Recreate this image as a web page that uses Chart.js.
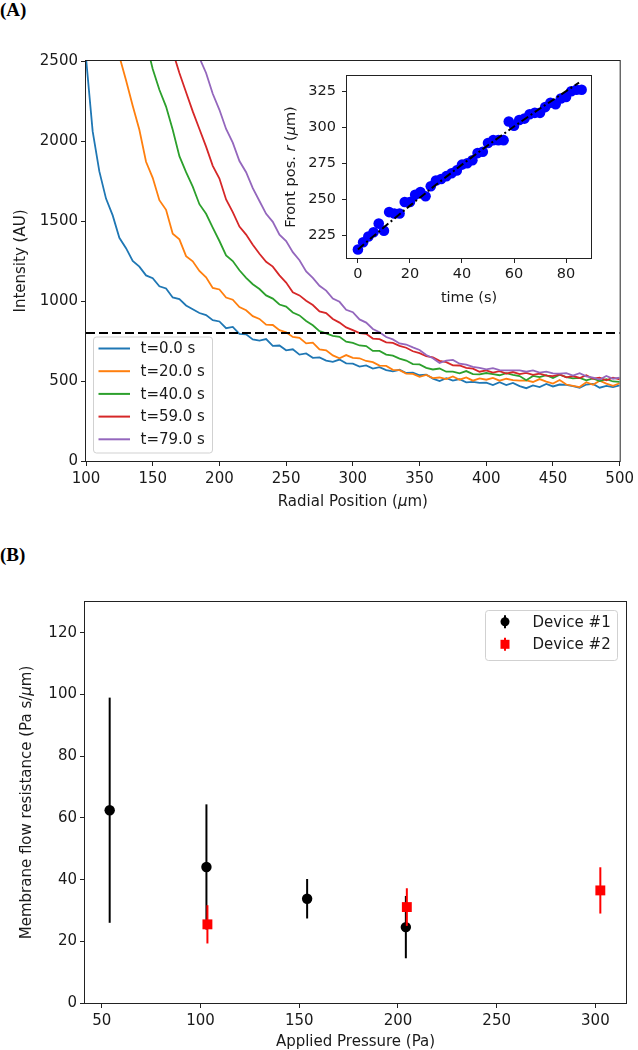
<!DOCTYPE html>
<html>
<head>
<meta charset="utf-8">
<script src="https://cdn.jsdelivr.net/npm/chart.js@4"></script>
<style>
  body { margin: 0; background: #fff; width: 638px; height: 1050px; position: relative; overflow: hidden; }
  canvas { position: absolute; }
  .panel-label { position: absolute; font: bold 19px "Liberation Serif", serif; line-height: 1; color: #000; }
</style>
</head>
<body>
<div class="panel-label" style="left:0;top:0">(A)</div>
<div class="panel-label" style="left:0;top:545px">(B)</div>
<canvas id="profileChart" width="638" height="520" style="left:0;top:0"></canvas>
<canvas id="frontChart" width="330" height="250" style="left:280px;top:60px"></canvas>
<canvas id="resistanceChart" width="638" height="490" style="left:0;top:560px"></canvas>
<script>
// ---- panel A: intensity profiles ----
const radialPos = [100, 105, 110, 115, 120, 125, 130, 135, 140, 145, 150, 155, 160, 165, 170, 175, 180, 185, 190, 195,
  200, 205, 210, 215, 220, 225, 230, 235, 240, 245, 250, 255, 260, 265, 270, 275, 280, 285, 290, 295,
  300, 305, 310, 315, 320, 325, 330, 335, 340, 345, 350, 355, 360, 365, 370, 375, 380, 385, 390, 395,
  400, 405, 410, 415, 420, 425, 430, 435, 440, 445, 450, 455, 460, 465, 470, 475, 480, 485, 490, 495, 500];

const intensityT0 = [2520, 2060, 1810, 1640, 1535, 1395, 1330, 1250, 1215, 1160, 1142, 1092, 1078, 1022, 1012, 972, 948, 925, 912, 880,
  872, 830, 838, 795, 792, 760, 752, 762, 720, 722, 692, 698, 665, 672, 645, 648, 628, 620, 634, 610,
  608, 590, 598, 578, 586, 568, 560, 570, 550, 552, 536, 540, 515, 500, 518, 502, 512, 492, 494, 488,
  490, 475, 492, 474, 488, 468, 455, 472, 462, 482, 466, 478, 476, 468, 458, 478, 482, 458, 470, 462, 472];
const intensityT20 = [null, null, null, null, 2720, 2530, 2380, 2220, 2070, 1870, 1770, 1630, 1570, 1420, 1385, 1280, 1248, 1188, 1148, 1082,
  1072, 1022, 1008, 962, 942, 905, 888, 852, 850, 818, 805, 775, 770, 735, 740, 698, 692, 660, 642, 662,
  645, 642, 625, 618, 596, 594, 570, 568, 546, 544, 526, 538, 518, 522, 512, 528, 508, 522, 502, 516,
  508, 519, 502, 514, 505, 502, 504, 494, 512, 496, 484, 506, 478, 470, 462, 492, 476, 502, 484, 470, 486];
const intensityT40 = [null, null, null, null, null, null, null, null, 2800, 2620, 2450, 2320, 2215, 2070, 1905, 1805, 1715, 1605, 1545, 1458,
  1375, 1285, 1250, 1192, 1145, 1105, 1075, 1035, 1015, 978, 965, 928, 910, 875, 848, 812, 798, 782, 776, 746,
  738, 722, 718, 688, 688, 665, 658, 640, 628, 606, 604, 582, 572, 578, 558, 558, 548, 562, 543, 542,
  550, 543, 536, 549, 538, 531, 505, 532, 524, 536, 518, 539, 524, 516, 520, 504, 516, 499, 511, 497, 495];
const intensityT59 = [null, null, null, null, null, null, null, null, null, null, null, null, 2700, 2560, 2425, 2305, 2185, 2075, 1965, 1845,
  1765, 1635, 1555, 1465, 1415, 1352, 1295, 1245, 1215, 1160, 1115, 1055, 1035, 1002, 975, 935, 925, 888, 865, 835,
  818, 800, 795, 765, 762, 742, 738, 720, 708, 686, 674, 655, 648, 626, 618, 598, 597, 582, 577, 558,
  566, 553, 561, 546, 556, 543, 551, 538, 546, 533, 531, 541, 523, 531, 519, 536, 514, 521, 504, 521, 510];
const intensityT79 = [null, null, null, null, null, null, null, null, null, null, null, null, null, null, null, null, 2650, 2520, 2425, 2295,
  2195, 2075, 1990, 1875, 1805, 1705, 1625, 1545, 1495, 1415, 1375, 1305, 1255, 1185, 1145, 1095, 1065, 1015, 995, 945,
  930, 885, 865, 825, 805, 775, 760, 735, 728, 710, 694, 662, 642, 612, 628, 632, 608, 602, 588, 582,
  573, 580, 568, 567, 566, 567, 558, 566, 553, 559, 548, 546, 549, 534, 549, 529, 521, 509, 531, 514, 521];

const profileLabels = ['t=0.0 s', 't=20.0 s', 't=40.0 s', 't=59.0 s', 't=79.0 s'];
const profileColors = ['#1f77b4', '#ff7f0e', '#2ca02c', '#d62728', '#9467bd'];
const thresholdLevel = 800;
const radialTicks = [100, 150, 200, 250, 300, 350, 400, 450, 500];
const intensityTicks = [0, 500, 1000, 1500, 2000, 2500];

// ---- panel A inset: front position ----
const frontTime = [0, 2, 4, 6, 8, 10, 12, 14, 16, 18, 20, 22, 24, 26, 28, 30, 32, 34, 36, 38, 40, 42,
  44, 46, 48, 50, 52, 54, 56, 58, 60, 62, 64, 66, 68, 70, 72, 74, 76, 78, 80, 82, 84, 86];
const frontPos = [215, 220, 224, 227, 233, 228, 241, 240, 240, 248, 248, 253, 255, 252, 259, 263, 264, 266, 268, 270, 274, 275,
  277, 282, 283, 289, 291, 291, 291, 304, 301, 305, 306, 309, 310, 310, 314, 317, 316, 320, 321, 325, 326, 326];
const fitTime = [0, 10, 20, 30, 40, 50, 60, 70, 85];
const fitPos = [215, 230.5, 245.5, 260, 274, 287.5, 300.5, 313, 331];
const timeTicks = [0, 20, 40, 60, 80];
const frontTicks = [225, 250, 275, 300, 325];

// ---- panel B: membrane resistance ----
const device1Pressure = [54, 103, 154, 204];
const device1Resistance = [62.5, 44.1, 33.8, 24.6];
const device1Error = [36.5, 20.3, 6.4, 10.1];
const device2Pressure = [103.5, 204.5, 302.5];
const device2Resistance = [25.5, 31.1, 36.5];
const device2Error = [6.2, 6.1, 7.5];
const deviceLabels = ['Device #1', 'Device #2'];
const pressureTicks = [50, 100, 150, 200, 250, 300];
const resistanceTicks = [0, 20, 40, 60, 80, 100, 120];

const TEXT = '#1a1a1a';
Chart.defaults.font.family = '"DejaVu Sans"';
Chart.defaults.font.size = 15;
Chart.defaults.color = TEXT;

function toPoints(xs, ys) {
  return xs.map((x, i) => ({ x: x, y: ys[i] })).filter(p => p.y !== null);
}

function axis(min, max, ticks, size, pad, fontSize) {
  return {
    type: 'linear',
    min: min,
    max: max,
    afterBuildTicks: s => { s.ticks = ticks.map(v => ({ value: v })); },
    afterFit: s => { if (s.isHorizontal()) s.height = size; else s.width = size; },
    grid: { display: true, drawOnChartArea: false, drawTicks: true, tickLength: 5, color: '#222', lineWidth: 1 },
    border: { display: false },
    ticks: { padding: pad, color: TEXT, font: { size: fontSize }, maxRotation: 0, autoSkip: false, callback: v => String(v) },
  };
}

// text with italic parts (matplotlib mathtext)
function drawRich(ctx, parts, x, y, angle, size) {
  ctx.save();
  ctx.translate(x, y);
  ctx.rotate(angle);
  ctx.fillStyle = TEXT;
  ctx.textBaseline = 'alphabetic';
  ctx.textAlign = 'left';
  const fonts = parts.map(p => (p.italic ? 'italic ' : '') + size + 'px "DejaVu Sans"');
  let total = 0;
  const widths = parts.map((p, i) => {
    ctx.font = fonts[i];
    const w = ctx.measureText(p.text).width;
    total += w;
    return w;
  });
  let cx = -total / 2;
  parts.forEach((p, i) => {
    ctx.font = fonts[i];
    ctx.fillText(p.text, cx, 0);
    cx += widths[i];
  });
  ctx.restore();
}

function drawFrame(chart) {
  const { ctx, chartArea: a } = chart;
  ctx.save();
  ctx.strokeStyle = '#222';
  ctx.lineWidth = 1;
  ctx.strokeRect(a.left - 0.5, a.top - 0.5, a.right - a.left + 1, a.bottom - a.top + 1);
  ctx.restore();
}

function legendBox(ctx, x, y, w, h) {
  ctx.save();
  ctx.beginPath();
  ctx.roundRect(x, y, w, h, 3);
  ctx.fillStyle = 'rgba(255,255,255,0.8)';
  ctx.fill();
  ctx.strokeStyle = 'rgba(204,204,204,0.9)';
  ctx.lineWidth = 1;
  ctx.stroke();
  ctx.restore();
}

const profilePlugin = {
  id: 'profileDecor',
  afterDraw(chart) {
    const { ctx, chartArea: a } = chart;
    drawFrame(chart);
    drawRich(ctx, [{ text: 'Radial Position (' }, { text: 'μ', italic: true }, { text: 'm)' }],
      (a.left + a.right) / 2, 506, 0, 15);
    drawRich(ctx, [{ text: 'Intensity (AU)' }], 24.5, (a.top + a.bottom) / 2, -Math.PI / 2, 15);

    // legend
    legendBox(ctx, 93.5, 337, 119, 116);
    ctx.save();
    ctx.font = '15px "DejaVu Sans"';
    ctx.textBaseline = 'middle';
    ctx.fillStyle = TEXT;
    profileLabels.forEach((lab, i) => {
      const y = 348.5 + i * 22.7;
      ctx.strokeStyle = profileColors[i];
      ctx.lineWidth = 2;
      ctx.beginPath();
      ctx.moveTo(98.5, y);
      ctx.lineTo(130, y);
      ctx.stroke();
      ctx.fillText(lab, 140.5, y + 1);
    });
    ctx.restore();
  }
};

const profileSets = [intensityT0, intensityT20, intensityT40, intensityT59, intensityT79].map((vals, i) => ({
  label: profileLabels[i],
  data: toPoints(radialPos, vals),
  borderColor: profileColors[i],
  borderWidth: 1.8,
  pointRadius: 0,
  tension: 0,
}));

new Chart(document.getElementById('profileChart'), {
  type: 'line',
  data: {
    datasets: [{
      label: 'threshold',
      data: [{ x: radialTicks[0], y: thresholdLevel }, { x: radialTicks[radialTicks.length - 1], y: thresholdLevel }],
      borderColor: '#000',
      borderWidth: 2.2,
      borderDash: [9, 4],
      pointRadius: 0,
    }].concat(profileSets.slice().reverse()),
  },
  options: {
    responsive: false,
    animation: false,
    layout: { padding: { top: 61, right: 15, left: 0, bottom: 0 } },
    plugins: { legend: { display: false }, tooltip: { enabled: false } },
    scales: {
      x: axis(100, 500, radialTicks, 59, 4, 15),
      y: axis(0, 2500, intensityTicks, 86, 3, 15),
    },
  },
  plugins: [profilePlugin],
});

const frontPlugin = {
  id: 'frontDecor',
  beforeDraw(chart) {
    const { ctx, chartArea: a } = chart;
    ctx.save();
    ctx.fillStyle = '#fff';
    ctx.fillRect(a.left, a.top, a.right - a.left, a.bottom - a.top);
    ctx.restore();
  },
  afterDraw(chart) {
    const { ctx, chartArea: a } = chart;
    drawFrame(chart);
    drawRich(ctx, [{ text: 'time (s)' }], (a.left + a.right) / 2, 242, 0, 14.5);
    drawRich(ctx, [{ text: 'Front pos. ' }, { text: 'r', italic: true }, { text: ' (' }, { text: 'μ', italic: true }, { text: 'm)' }],
      14.5, (a.top + a.bottom) / 2, -Math.PI / 2, 14.5);
  }
};

new Chart(document.getElementById('frontChart'), {
  type: 'line',
  data: {
    datasets: [
      {
        label: 'fit',
        data: toPoints(fitTime, fitPos),
        borderColor: '#000',
        borderWidth: 2,
        borderDash: [8, 3, 2, 3],
        pointRadius: 0,
      },
      {
        label: 'front',
        data: toPoints(frontTime, frontPos),
        showLine: false,
        pointRadius: 5.3,
        pointBackgroundColor: '#0000ff',
        pointBorderWidth: 0,
      },
    ],
  },
  options: {
    responsive: false,
    animation: false,
    layout: { padding: { top: 16, right: 19, left: 0, bottom: 0 } },
    plugins: { legend: { display: false }, tooltip: { enabled: false } },
    scales: {
      x: axis(-4.2, 89.6, timeTicks, 52, 2.5, 14.5),
      y: axis(209.1, 335.6, frontTicks, 67, 6, 14.5),
    },
  },
  plugins: [frontPlugin],
});

// error bars drawn just before each dataset's markers
const errorBarPlugin = {
  id: 'errorBars',
  beforeDatasetDraw(chart, args) {
    const ds = chart.data.datasets[args.index];
    if (!ds.errors) return;
    const { ctx } = chart;
    const yScale = chart.scales.y;
    ctx.save();
    ctx.strokeStyle = ds.pointBackgroundColor;
    ctx.lineWidth = 2;
    args.meta.data.forEach((pt, i) => {
      const v = ds.data[i].y;
      ctx.beginPath();
      ctx.moveTo(pt.x, yScale.getPixelForValue(v + ds.errors[i]));
      ctx.lineTo(pt.x, yScale.getPixelForValue(v - ds.errors[i]));
      ctx.stroke();
    });
    ctx.restore();
  }
};

const resistancePlugin = {
  id: 'resistanceDecor',
  afterDraw(chart) {
    const { ctx, chartArea: a } = chart;
    drawFrame(chart);
    drawRich(ctx, [{ text: 'Applied Pressure (Pa)' }], (a.left + a.right) / 2, 486, 0, 15);
    drawRich(ctx, [{ text: 'Membrane flow resistance (Pa s/' }, { text: 'μ', italic: true }, { text: 'm)' }],
      31, (a.top + a.bottom) / 2, -Math.PI / 2, 15);

    legendBox(ctx, 485.5, 50.5, 132, 50);
    ctx.save();
    ctx.font = '15px "DejaVu Sans"';
    ctx.textBaseline = 'middle';
    ctx.fillStyle = TEXT;
    const colors = ['#000000', '#ff0000'];
    deviceLabels.forEach((lab, i) => {
      const y = 61.7 + i * 22.6;
      ctx.strokeStyle = colors[i];
      ctx.lineWidth = 2;
      ctx.beginPath();
      ctx.moveTo(505, y - 6.5);
      ctx.lineTo(505, y + 6.5);
      ctx.stroke();
      ctx.fillStyle = colors[i];
      ctx.beginPath();
      if (i === 0) ctx.arc(505, y, 4.5, 0, Math.PI * 2);
      else ctx.rect(500.5, y - 4.5, 9, 9);
      ctx.fill();
      ctx.fillStyle = TEXT;
      ctx.fillText(lab, 532.5, y + 1);
    });
    ctx.restore();
  }
};

new Chart(document.getElementById('resistanceChart'), {
  type: 'line',
  data: {
    datasets: [
      {
        label: deviceLabels[1],
        data: toPoints(device2Pressure, device2Resistance),
        errors: device2Error,
        showLine: false,
        pointStyle: 'rect',
        pointRadius: 7,
        pointBackgroundColor: '#ff0000',
        pointBorderWidth: 0,
      },
      {
        label: deviceLabels[0],
        data: toPoints(device1Pressure, device1Resistance),
        errors: device1Error,
        showLine: false,
        pointStyle: 'circle',
        pointRadius: 5.2,
        pointBackgroundColor: '#000000',
        pointBorderWidth: 0,
      },
    ],
  },
  options: {
    responsive: false,
    animation: false,
    layout: { padding: { top: 42, right: 12, left: 0, bottom: 0 } },
    plugins: { legend: { display: false }, tooltip: { enabled: false } },
    scales: {
      x: axis(41.5, 315.5, pressureTicks, 47, 4, 15),
      y: axis(0, 130, resistanceTicks, 85, 3, 15),
    },
  },
  plugins: [errorBarPlugin, resistancePlugin],
});
</script>
</body>
</html>
